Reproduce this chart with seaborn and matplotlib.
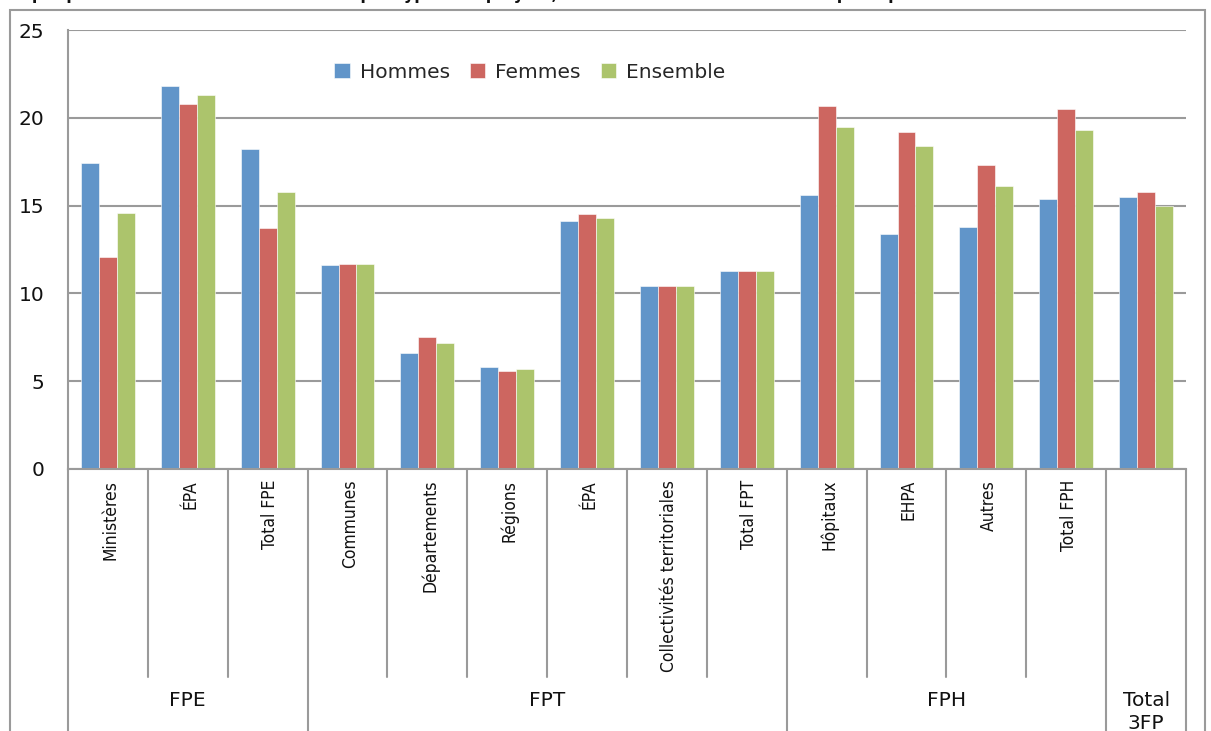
import pandas as pd
import matplotlib.pyplot as plt
import seaborn as sns
from matplotlib.patches import Rectangle

sns.set_theme(style="white")
plt.rcParams['font.family'] = ['DejaVu Sans']

# Donnees
categories = ["Ministères", "ÉPA", "Total FPE",
              "Communes", "Départements", "Régions", "ÉPA", "Collectivités territoriales", "Total FPT",
              "Hôpitaux", "EHPA", "Autres", "Total FPH",
              ""]
groupes = ["FPE", "FPT", "FPH", "Total\n3FP"]
taille_groupes = [3, 6, 4, 1]
hommes = [17.4, 21.8, 18.2, 11.6, 6.6, 5.8, 14.1, 10.4, 11.3, 15.6, 13.4, 13.8, 15.4, 15.5]
femmes = [12.1, 20.8, 13.7, 11.7, 7.5, 5.6, 14.5, 10.4, 11.3, 20.7, 19.2, 17.3, 20.5, 15.8]
ensemble = [14.6, 21.3, 15.8, 11.7, 7.2, 5.7, 14.3, 10.4, 11.3, 19.5, 18.4, 16.1, 19.3, 15.0]
series = ["Hommes", "Femmes", "Ensemble"]
couleurs = ["#6195C9", "#CD6660", "#ACC46C"]

cles = [f"{i}_{c}" for i, c in enumerate(categories)]
df = pd.DataFrame({"cle": cles * 3,
                   "serie": [s for s in series for _ in cles],
                   "valeur": hommes + femmes + ensemble})

fig = plt.figure(figsize=(12.11, 7.31), dpi=100)
ax = fig.add_axes([68/1211, (731-469)/731, (1186-68)/1211, (469-30)/731])

sns.barplot(data=df, x="cle", y="valeur", hue="serie", order=cles, hue_order=series,
            palette=couleurs, width=0.675, saturation=1, edgecolor="white", linewidth=0.4, ax=ax)

ax.set_ylim(0, 25)
ax.set_xlim(-0.5, len(cles) - 0.5)
ax.set_yticks([0, 5, 10, 15, 20, 25])
ax.set_xlabel("")
ax.set_ylabel("")
ax.yaxis.grid(True, color="#9A9A9A", linewidth=1.5)
ax.set_axisbelow(True)
for s in ["top", "right"]:
    ax.spines[s].set_visible(False)
for s in ["left", "bottom"]:
    ax.spines[s].set_color("#9A9A9A")
    ax.spines[s].set_linewidth(1.5)
ax.tick_params(axis="y", length=7, width=1.5, color="#9A9A9A", labelsize=14.5, pad=10, labelcolor="#111111")
ax.tick_params(axis="x", length=0)
ax.set_xticks(range(len(cles)))
ax.set_xticklabels([])

# Etiquettes des categories
trans = ax.get_xaxis_transform()
for i, c in enumerate(categories):
    ax.text(i + 0.03, -0.025, c, rotation=90, ha="center", va="top", transform=trans,
            fontsize=12.5, fontstretch="condensed", color="#111111")

# Separateurs et groupes
debut = 0
limites_groupes = [-0.5]
for n in taille_groupes:
    debut += n
    limites_groupes.append(debut - 0.5)
for i in range(len(cles) + 1):
    x = i - 0.5
    bas = -0.7 if x in limites_groupes else -0.474
    ax.plot([x, x], [0, bas], color="#9A9A9A", lw=1.5, transform=trans, clip_on=False)
for g, a, b in zip(groupes, limites_groupes[:-1], limites_groupes[1:]):
    ax.text((a + b) / 2, -0.505, g, ha="center", va="top", transform=trans, fontsize=14.5,
            color="#111111", linespacing=1.3)

ax.legend(loc="center", bbox_to_anchor=(0.413, 0.904), ncol=3, frameon=False, fontsize=14.5,
          handlelength=0.75, handleheight=0.75, columnspacing=1.0, handletextpad=0.5)

# Cadre et titre
fig.patches.append(Rectangle((10/1211, -0.1), (1205-10)/1211, 1.1 - 10/731, transform=fig.transFigure,
                             fill=False, edgecolor="#9A9A9A", linewidth=1.5))
fig.text(0.0, 1.009, "Graphique 1 : Part des moins de 30 ans par type d'employeur, sexe et versant de la fonction publique au 31 décembre 2011",
         ha="left", va="center", fontsize=12.8, fontweight="bold", fontstretch="condensed",
         color="#111111")

fig.savefig("out.png", dpi=100)
